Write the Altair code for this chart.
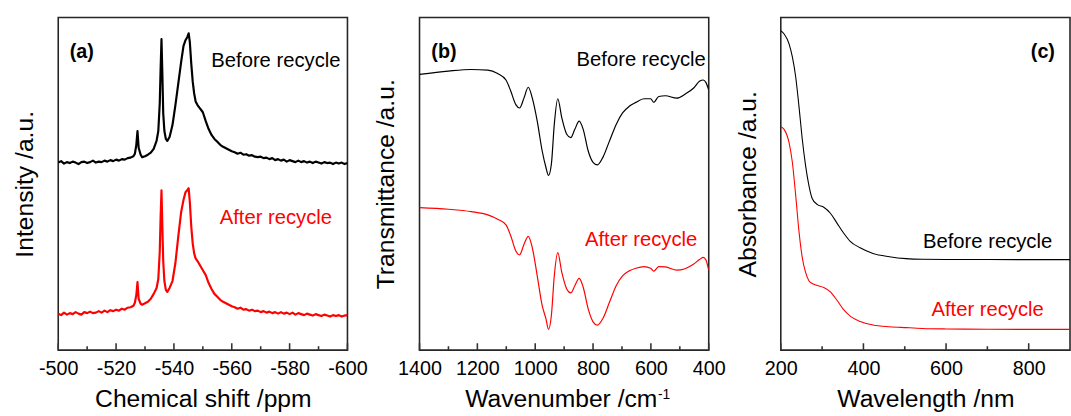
import altair as alt
import pandas as pd

FONT = "Liberation Sans"
W, H = 293, 337

# ---------------- (a) 29Si NMR ----------------
nmr_shift = [
    -500, -501, -502, -503, -504, -505, -506, -507, -508, -509, -510, -511, -512,
    -513, -514, -515, -516, -517, -518, -519, -520, -521, -522, -523, -524,
    -525, -526, -526.5, -527, -527.4, -527.8, -528.5, -529, -530, -531, -532, -533,
    -534, -534.6, -535.1, -535.4, -535.7, -536.0, -536.3, -536.7, -537.2, -537.7,
    -538.5, -539.5, -540.5, -541.5, -542.5, -543.3, -544.0, -544.6, -545.1, -545.5,
    -546.0, -546.5, -547.0, -547.5, -548.2, -549, -550, -551, -552, -553, -554,
    -555, -556, -557, -558, -559, -560,
    -561, -562, -563, -564, -565, -566, -567, -568, -569, -570, -571, -572, -573,
    -574, -575, -576, -577, -578, -579, -580, -581, -582, -583, -584, -585, -586,
    -587, -588, -589, -590, -591, -592, -593, -594, -595, -596, -597, -598, -599, -600,
]
nmr_before = [
    190, 191.5, 189, 190.5, 189.5, 191, 190, 188.5, 190.5, 191, 189.5, 190.5, 192,
    190, 191, 190.5, 192, 191, 192.5, 191.5, 193, 192, 193.5, 193, 194.5,
    195, 196.5, 199, 208, 222, 205, 198, 195.5, 196.5, 198, 200, 204,
    212, 222, 250, 285, 315, 280, 240, 222, 214, 212,
    216, 228, 248, 270, 292, 308, 314, 317, 321, 312,
    290, 272, 260, 252, 248, 245, 241, 232, 224, 218, 214,
    211, 208, 206, 204.5, 203, 201.5,
    200.5, 199, 200, 198, 198.5, 197, 197.5, 196, 195.5, 196, 194.5, 195, 193.5,
    194.5, 192.5, 193.5, 192, 193, 191, 192.5, 191.5, 190.5, 192, 190.5, 191.5, 190,
    191, 189.5, 191, 190, 189, 190.5, 189.5, 190, 188.5, 190, 189, 190, 188.5, 189.5,
]
nmr_after = [
    37, 35.5, 38, 36, 37.5, 36.5, 38.5, 37, 36, 38.5, 37.5, 39, 37.5,
    38, 39.5, 38, 40, 38.5, 40.5, 39.5, 41, 40, 42, 41, 43,
    43.5, 45, 48, 56, 69, 52, 47, 46, 47.5, 49, 52, 57,
    63, 72, 100, 135, 162, 125, 90, 70, 61, 59,
    63, 70, 88, 115, 140, 152, 160, 162, 164, 150,
    125, 108, 98, 93, 90, 86, 81, 76, 68, 62, 57,
    54, 51, 49, 47.5, 46, 44.5,
    43.5, 42, 43, 41, 41.5, 40, 41, 39.5, 40, 38.5, 39.5, 38, 39,
    37.5, 38.5, 37, 38.5, 37, 38, 36.5, 38, 36, 37.5, 36.5, 35.5, 37,
    36, 35, 36.5, 35.5, 34.5, 36, 35, 34, 35.5, 34.5, 35.5, 34, 35, 35.5,
]

# ---------------- (b) FT-IR ----------------
ir_wavenumber = [
    1400, 1300, 1221, 1164, 1130, 1101, 1084, 1067, 1054, 1039, 1024, 1010, 993,
    976, 963, 954, 944, 934, 922, 908, 891, 877, 863, 848, 834, 817, 800, 785,
    766, 743, 720, 698, 675, 652, 624, 601, 590, 573, 550, 510, 482, 453, 431,
    419, 410, 400,
]
ir_before = [
    279.3, 282.7, 284.3, 283.7, 280.3, 273.7, 262, 248.7, 245.3, 255.3, 266.3,
    255.3, 232, 202, 185.3, 177, 188.7, 228.7, 254.7, 235.3, 218.7, 215.3, 223.7,
    232, 223.7, 202, 190.3, 187.7, 195.3, 212, 228.7, 240.3, 247, 251, 254.7,
    254.7, 251, 257, 257.7, 255.3, 259.3, 265.3, 272.7, 273.7, 271.3, 263.7,
]
ir_after = [
    144.3, 142.7, 140.3, 137, 132.7, 127, 115.3, 100.5, 96.5, 107, 115.3,
    103.7, 75.3, 45.3, 32, 21, 35.3, 75.3, 98.7, 78.7, 62, 58, 65.3,
    72.7, 63.7, 42, 28.7, 25.3, 32, 48.7, 65.3, 75.3, 80.3, 83, 84.7,
    83, 80, 84.7, 84.3, 81, 82.5, 87, 92, 94, 91.5, 81,
]

# ---------------- (c) UV-Vis ----------------
uv_wavelength = [
    200, 208, 220, 228, 236, 244, 252, 260, 268, 276, 288, 304, 320, 336, 352,
    368, 392, 423, 463, 503, 543, 600, 700, 800, 900,
]
uv_before = [
    323.7, 320.3, 310.3, 297, 277, 247, 213.7, 187, 167, 153.7, 147.7, 144.7,
    138.7, 128.7, 118.7, 110.3, 103.7, 98, 94.7, 92.7, 92, 91.8, 91.8, 91.7, 91.7,
]
uv_after = [
    226.3, 223.7, 210.3, 190.3, 157, 120.3, 93.7, 78.7, 70.3, 67.5, 65.5, 63.5,
    59, 50.5, 41, 34.5, 29, 25.5, 23.7, 22.8, 22, 21.5, 21.2, 21, 21,
]

SERIES = ["Before recycle", "After recycle"]


def long_frame(x, before, after):
    return pd.concat([
        pd.DataFrame({"x": x, "y": before, "s": SERIES[0]}),
        pd.DataFrame({"x": x, "y": after, "s": SERIES[1]}),
    ])


def label(text, x, y, color="black", size=20.5, weight="normal", align="left"):
    return alt.Chart(pd.DataFrame({"t": [text]})).mark_text(
        align=align, baseline="alphabetic", fontSize=size, fontWeight=weight,
        color=color, font=FONT,
    ).encode(x=alt.value(x), y=alt.value(y), text="t:N")


def panel(df, domain, reverse, major, minor, x_title, y_title, colors,
          stroke_width, interpolate, texts):
    xs = alt.Scale(domain=domain, reverse=reverse, nice=False, zero=False)
    ys = alt.Scale(domain=[0, H], nice=False, zero=False)
    x_axis = alt.Axis(
        values=major, ticks=False, domain=False, grid=False,
        labelExpr="'' + datum.value",
        labelFontSize=20, labelPadding=9, labelFlush=False,
        labelColor="black", title=x_title, titleFontSize=25,
        titleFontWeight="normal", titlePadding=8, titleColor="black",
        labelFont=FONT, titleFont=FONT,
    )
    lines = alt.Chart(df).mark_line(
        strokeWidth=stroke_width, interpolate=interpolate, strokeJoin="round",
        clip=True,
    ).encode(
        x=alt.X("x:Q", scale=xs, axis=x_axis),
        y=alt.Y("y:Q", scale=ys, axis=alt.Axis(
            labels=False, ticks=False, domain=False, grid=False,
            title=y_title, titleFontSize=25, titleFontWeight="normal",
            titlePadding=21, titleColor="black", titleFont=FONT,
        )),
        color=alt.Color("s:N", scale=alt.Scale(domain=SERIES, range=colors),
                        legend=None),
        detail="s:N",
    )
    # inward-pointing tick marks drawn along the bottom edge
    major_ticks = alt.Chart(pd.DataFrame({"x": major})).mark_rule(
        color="#333333", strokeWidth=1.6
    ).encode(x=alt.X("x:Q", scale=xs, axis=x_axis), y=alt.value(H), y2=alt.value(H - 7))
    minor_ticks = alt.Chart(pd.DataFrame({"x": minor})).mark_rule(
        color="#333333", strokeWidth=1.6
    ).encode(x=alt.X("x:Q", scale=xs, axis=x_axis), y=alt.value(H), y2=alt.value(H - 4))
    return alt.layer(lines, major_ticks, minor_ticks, *texts).properties(
        width=W, height=H
    )


BLACK_RED = ["#000000", "#ff0000"]

pa = panel(
    long_frame(nmr_shift, nmr_before, nmr_after),
    [-500, -600], False,
    [-500, -520, -540, -560, -580, -600],
    [-510, -530, -550, -570, -590],
    "Chemical shift /ppm", "Intensity /a.u.", BLACK_RED, 2.2, "linear",
    [
        label("(a)", 11.7, 41, size=20, weight="bold"),
        label("Before recycle", 220.5, 50, align="center"),
        label("After recycle", 220.5, 209, color="#ff0000", align="center"),
    ],
)

pb = panel(
    long_frame(ir_wavenumber, ir_before, ir_after),
    [400, 1400], True,
    [1400, 1200, 1000, 800, 600, 400],
    [1300, 1100, 900, 700, 500],
    None, "Transmittance /a.u.", BLACK_RED, 1.2, "monotone",
    [
        label("(b)", 12, 41, size=20, weight="bold"),
        label("Before recycle", 224.6, 49, align="center"),
        label("After recycle", 224.5, 231.7, color="#ff0000", align="center"),
        label("Wavenumber /cm", 241, H + 58, size=25, align="right"),
        label("-1", 241.5, H + 49.5, size=14),
    ],
)

pc = panel(
    long_frame(uv_wavelength, uv_before, uv_after),
    [200, 900], False,
    [200, 400, 600, 800],
    [300, 500, 700],
    "Wavelength /nm", "Absorbance /a.u.", ["#444444", "#ff2a2a"], 1.1, "monotone",
    [
        label("(c)", 253.3, 41, size=20, weight="bold"),
        label("Before recycle", 209.5, 233.3, align="center"),
        label("After recycle", 209.5, 302.3, color="#ff0000", align="center"),
    ],
)

chart = alt.hconcat(pa, pb, pc, spacing=73, bounds="flush").configure_view(
    stroke="#262626", strokeWidth=1.6
).properties(
    padding={"left": 12, "top": 14, "right": 0, "bottom": 0},
    background="white",
)

chart.save("out.html", embed_options={"renderer": "svg", "actions": False})
